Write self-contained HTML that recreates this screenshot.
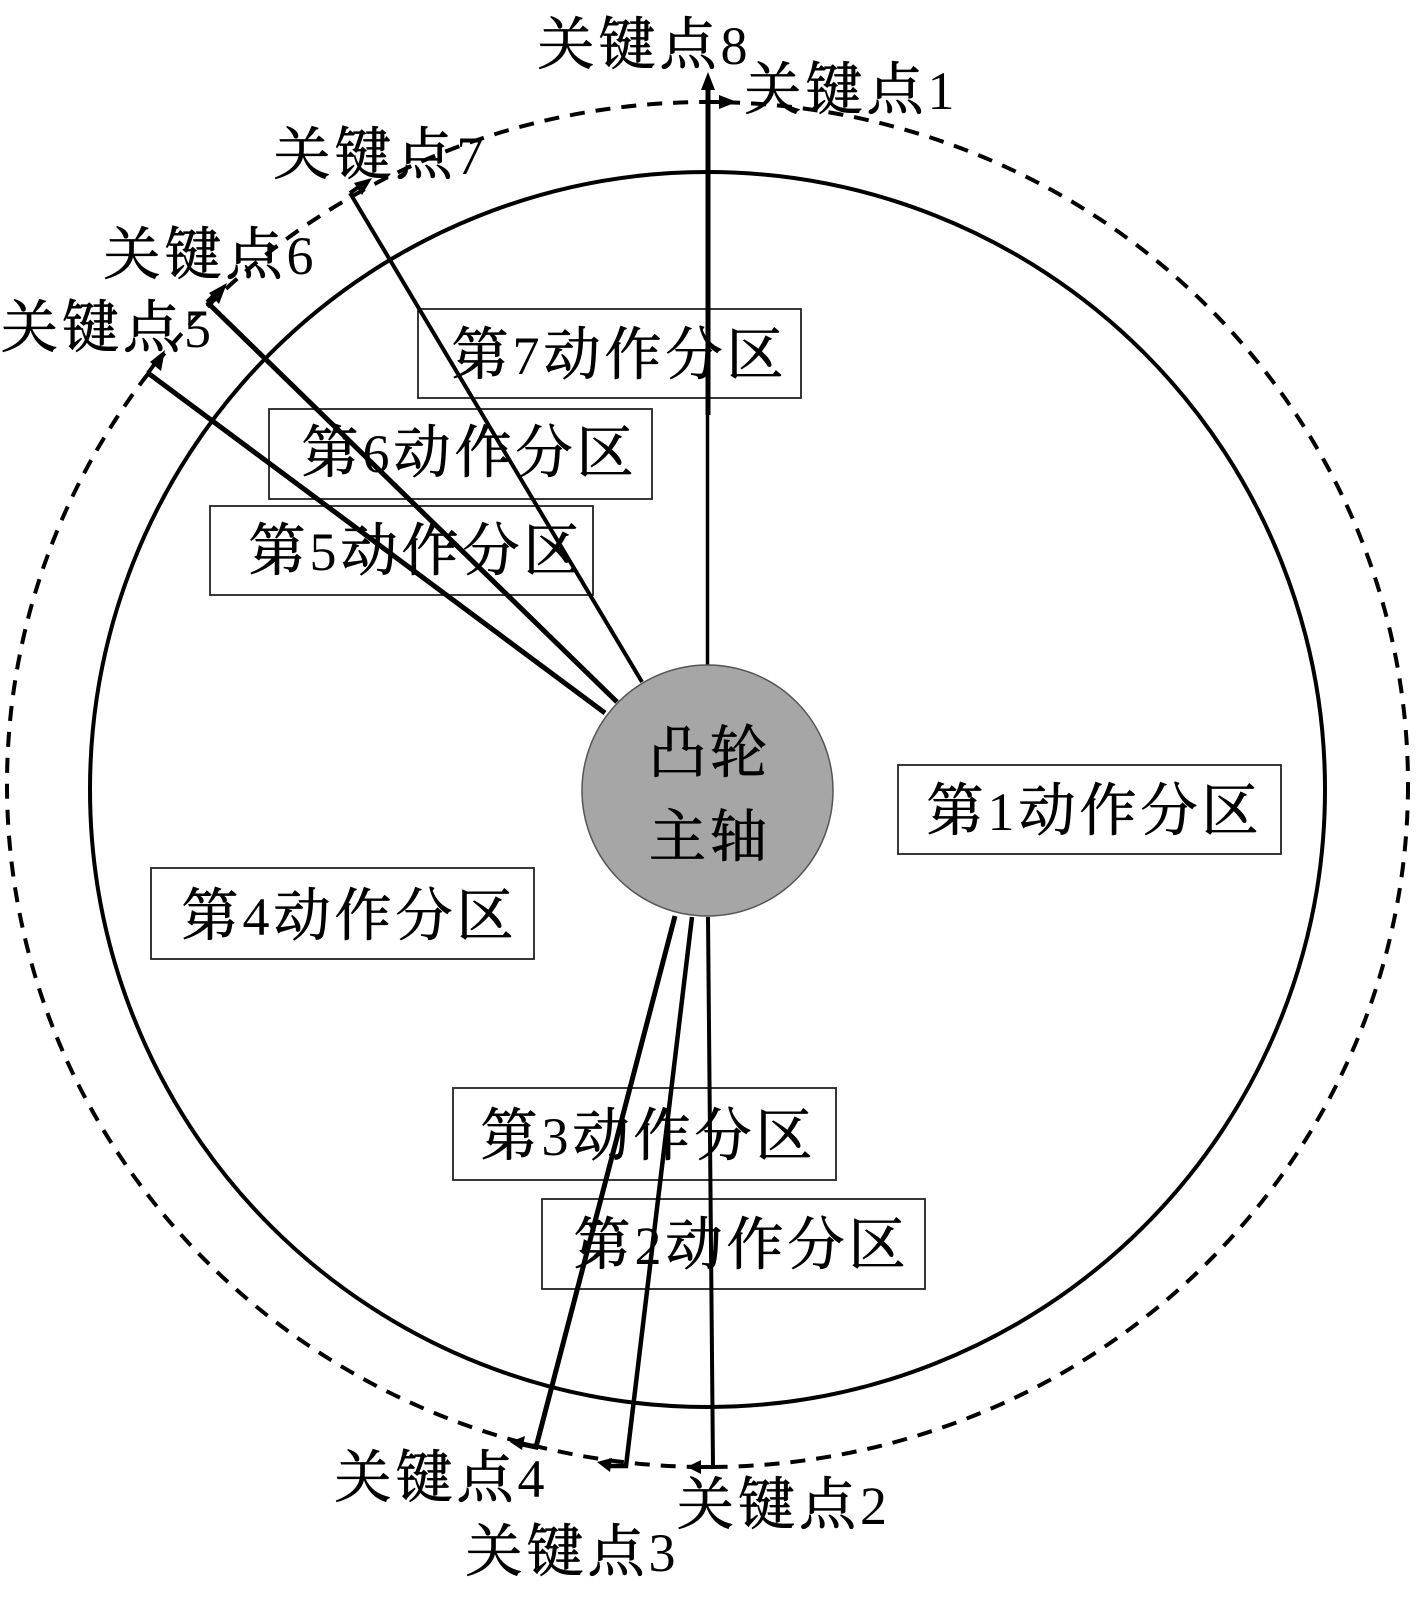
<!DOCTYPE html>
<html><head><meta charset="utf-8"><style>
html,body{margin:0;padding:0;background:#fff}
svg{display:block}
text{font-family:"Liberation Serif","Noto Serif CJK SC",serif;font-size:57px;letter-spacing:4px;fill:#000;stroke:#000;stroke-width:.8px}
tspan{stroke:none;font-size:54px}
</style></head><body>
<svg width="1417" height="1601" viewBox="0 0 1417 1601" xmlns="http://www.w3.org/2000/svg">
<rect width="1417" height="1601" fill="#fff"/>
<ellipse cx="707.500" cy="784.500" rx="700.500" ry="682.500" fill="none" stroke="#000" stroke-width="4" stroke-dasharray="15 11"/>
<circle cx="707.500" cy="789.500" r="617.500" fill="none" stroke="#000" stroke-width="4"/>
<g fill="none" stroke="#222" stroke-width="1.800">
<rect x="418" y="309" width="383" height="89"/>
<rect x="269" y="409" width="383" height="90"/>
<rect x="210" y="506" width="383" height="89"/>
<rect x="898" y="765" width="383" height="89"/>
<rect x="151" y="868" width="383" height="91"/>
<rect x="453" y="1088" width="383" height="92"/>
<rect x="542" y="1199" width="383" height="90"/>
</g>
<g stroke="#000" fill="none" stroke-width="4">
<path d="M708 85V415" stroke-width="5"/><path d="M707.500 415V665" stroke-width="3.500"/>
<path d="M708 102H724"/>
<path d="M350 193L642 682"/><path d="M350 193L360 186"/>
<path d="M207 302L617 702" stroke-width="5"/><path d="M207 302L216 293"/>
<path d="M148 373L605 713" stroke-width="5"/><path d="M148 373L156 362"/>
<path d="M708 917L713 1467H699"/>
<path d="M692 917L626 1466H610" stroke-width="4.500"/>
<path d="M675 916L536 1447L522 1444" stroke-width="5"/>
</g>
<g fill="#000">
<path d="M708 72L701 90H715Z"/>
<path d="M737 102L719 95V109Z"/>
<path d="M372 178L354 183L362 195Z"/>
<path d="M227 283L209 293L219 304Z"/>
<path d="M165 350L150 362L161 371Z"/>
<path d="M687 1467L701 1460V1474Z"/>
<path d="M597 1462L612 1458L610 1472Z"/>
<path d="M510 1442L525 1436L522 1450Z"/>
</g>
<circle cx="707.500" cy="790.500" r="125.500" fill="#a6a6a6" stroke="#555" stroke-width="1.500"/>
<text x="537.500" y="64">关键点<tspan>8</tspan></text>
<text x="744.500" y="109">关键点<tspan>1</tspan></text>
<text x="273.500" y="174">关键点<tspan>7</tspan></text>
<text x="103.500" y="274">关键点<tspan>6</tspan></text>
<text x="1" y="347">关键点<tspan>5</tspan></text>
<text x="334.500" y="1497">关键点<tspan>4</tspan></text>
<text x="677" y="1524">关键点<tspan>2</tspan></text>
<text x="465.500" y="1571">关键点<tspan>3</tspan></text>
<text x="451.500" y="374">第<tspan>7</tspan>动作分区</text>
<text x="301.500" y="472">第<tspan>6</tspan>动作分区</text>
<text x="248.500" y="570">第<tspan>5</tspan>动作分区</text>
<text x="926.500" y="830">第<tspan>1</tspan>动作分区</text>
<text x="181.500" y="935">第<tspan>4</tspan>动作分区</text>
<text x="480.500" y="1155">第<tspan>3</tspan>动作分区</text>
<text x="573.500" y="1264">第<tspan>2</tspan>动作分区</text>
<text x="649" y="772">凸轮</text>
<text x="649" y="856">主轴</text>
</svg>
</body></html>
